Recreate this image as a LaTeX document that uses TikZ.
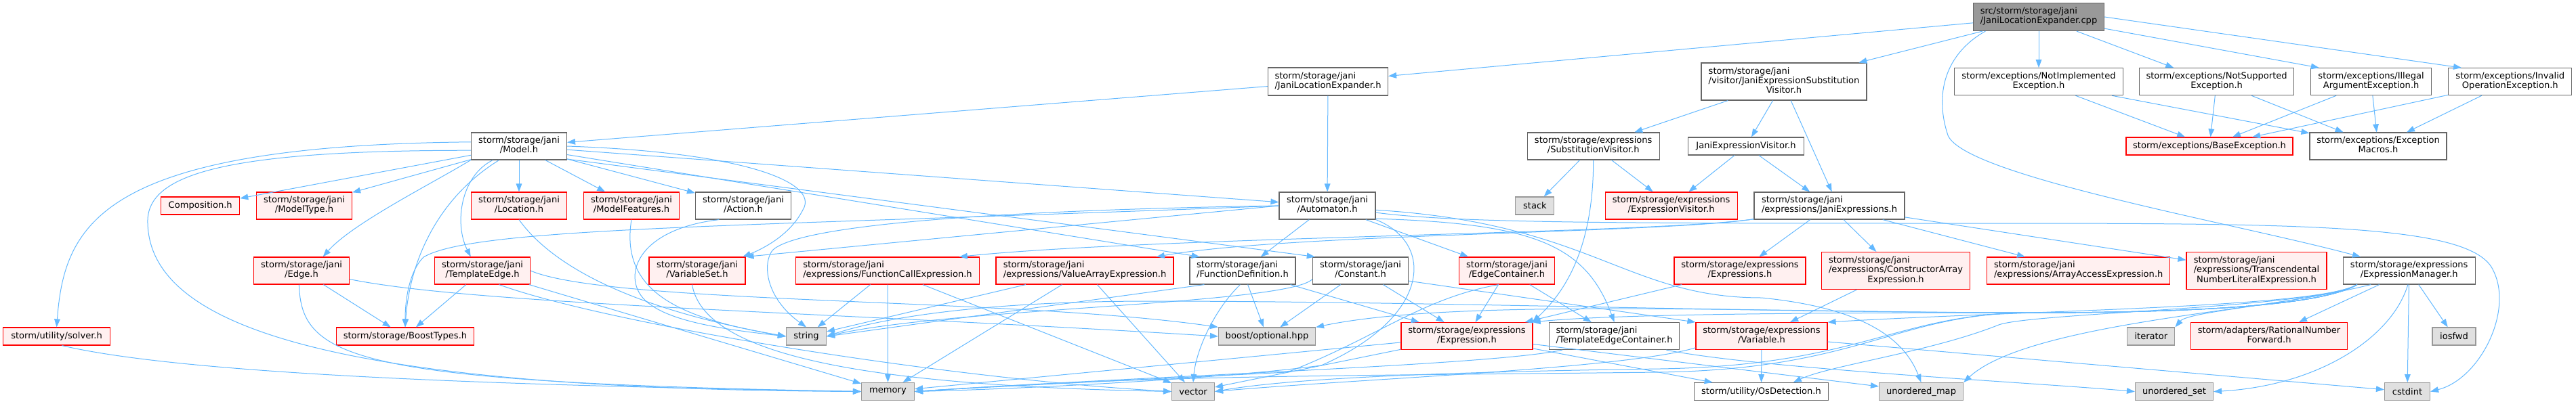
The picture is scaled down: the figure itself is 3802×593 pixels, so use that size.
\documentclass[tikz,border=0pt]{standalone}
\usepackage{fontspec}
\setmainfont{DejaVu Sans}
\usetikzlibrary{arrows.meta}
\definecolor{edgec}{HTML}{63B8FF}
\definecolor{redfill}{HTML}{FFF0F0}
\definecolor{grayfill}{HTML}{E0E0E0}
\definecolor{bord}{HTML}{999999}
\definecolor{wbord}{HTML}{666666}
\definecolor{cppfill}{HTML}{999999}
\definecolor{cppbord}{HTML}{666666}
\newcommand\dfont{\fontsize{9.8pt}{10.7pt}\selectfont}
\newcommand\twol[2]{\begin{tabular}{@{}l@{}}#1\\\multicolumn{1}{@{}c@{}}{#2}\end{tabular}}
\newcommand\threel[3]{\begin{tabular}{@{}l@{}}#1\\#2\\\multicolumn{1}{@{}c@{}}{#3}\end{tabular}}
\newcommand\nd[7]{\node[#6, minimum width=#4*0.75pt, minimum height=#5*0.75pt] (#1) at (#2,#3) {#7};}
\tikzset{
  dbox/.style={draw, line width=0.85pt, inner sep=0pt, font=\dfont, anchor=center},
  wnode/.style={dbox, draw=wbord, fill=white},
  rnode/.style={dbox, draw=red, fill=redfill},
  gnode/.style={dbox, draw=bord, fill=grayfill},
  cnode/.style={dbox, draw=cppbord, fill=cppfill},
  dep/.style={draw=edgec, line width=0.75pt, -{Triangle[length=9pt,width=6.5pt]}},
}
\begin{document}
\begin{tikzpicture}[x=0.75pt,y=-0.75pt]
\useasboundingbox (0,0) rectangle (3802,593);
% nodes
\nd{cpp}{3009}{25}{193}{41}{cnode}{\twol{src/storm/storage/jani}{/JaniLocationExpander.cpp}}
\nd{JLE}{1960}{120.5}{177}{41}{wnode}{\twol{storm/storage/jani}{/JaniLocationExpander.h}}
\nd{JESV}{2633}{120.5}{244}{55}{wnode}{\threel{storm/storage/jani}{/visitor/JaniExpressionSubstitution}{Visitor.h}}
\nd{NotImpl}{3009}{120.7}{249}{40}{wnode}{\twol{storm/exceptions/NotImplemented}{Exception.h}}
\nd{NotSupp}{3271.6}{120.7}{228}{40}{wnode}{\twol{storm/exceptions/NotSupported}{Exception.h}}
\nd{Illegal}{3499.6}{120.7}{178}{40}{wnode}{\twol{storm/exceptions/Illegal}{ArgumentException.h}}
\nd{Invalid}{3704.8}{120.7}{182}{40}{wnode}{\twol{storm/exceptions/Invalid}{OperationException.h}}
\nd{Model}{766}{216}{141}{40}{wnode}{\twol{storm/storage/jani}{/Model.h}}
\nd{SubV}{2351.7}{216}{195}{40}{wnode}{\twol{storm/storage/expressions}{/SubstitutionVisitor.h}}
\nd{JEV}{2577}{216}{171}{26}{wnode}{JaniExpressionVisitor.h}
\nd{BaseEx}{3261}{216}{246}{26}{rnode}{storm/exceptions/BaseException.h}
\nd{ExMac}{3510}{216}{202}{40}{wnode}{\twol{storm/exceptions/Exception}{Macros.h}}
\nd{Composition}{295.7}{304}{116}{26}{rnode}{Composition.h}
\nd{ModelType}{449}{304}{141}{40}{rnode}{\twol{storm/storage/jani}{/ModelType.h}}
\nd{Location}{766}{304}{141}{40}{rnode}{\twol{storm/storage/jani}{/Location.h}}
\nd{ModelFeatures}{932}{304}{141}{40}{rnode}{\twol{storm/storage/jani}{/ModelFeatures.h}}
\nd{Action}{1097}{304}{141}{40}{wnode}{\twol{storm/storage/jani}{/Action.h}}
\nd{Automaton}{1959}{304}{142}{40}{wnode}{\twol{storm/storage/jani}{/Automaton.h}}
\nd{stack}{2265.4}{304}{57}{26}{gnode}{stack}
\nd{ExprVis}{2466.6}{304}{195}{40}{rnode}{\twol{storm/storage/expressions}{/ExpressionVisitor.h}}
\nd{JaniExprs}{2700}{304}{222}{40}{wnode}{\twol{storm/storage/jani}{/expressions/JaniExpressions.h}}
\nd{Edge}{445}{400}{141}{40}{rnode}{\twol{storm/storage/jani}{/Edge.h}}
\nd{TemplateEdge}{712}{400}{141}{40}{rnode}{\twol{storm/storage/jani}{/TemplateEdge.h}}
\nd{VariableSet}{1029}{400}{142}{40}{rnode}{\twol{storm/storage/jani}{/VariableSet.h}}
\nd{FuncCall}{1310}{400}{271}{40}{rnode}{\twol{storm/storage/jani}{/expressions/FunctionCallExpression.h}}
\nd{ValueArray}{1601}{400}{262}{40}{rnode}{\twol{storm/storage/jani}{/expressions/ValueArrayExpression.h}}
\nd{FuncDef}{1834}{400}{156}{40}{wnode}{\twol{storm/storage/jani}{/FunctionDefinition.h}}
\nd{Constant}{2008}{400}{141}{40}{wnode}{\twol{storm/storage/jani}{/Constant.h}}
\nd{EdgeCont}{2224}{400}{141}{40}{rnode}{\twol{storm/storage/jani}{/EdgeContainer.h}}
\nd{Expressions}{2568}{400}{194}{40}{rnode}{\twol{storm/storage/expressions}{/Expressions.h}}
\nd{ConsArr}{2798}{400}{219}{55}{rnode}{\threel{storm/storage/jani}{/expressions/ConstructorArray}{Expression.h}}
\nd{ArrAcc}{3067.7}{400}{270}{40}{rnode}{\twol{storm/storage/jani}{/expressions/ArrayAccessExpression.h}}
\nd{Transc}{3330.5}{400}{207}{55}{rnode}{\threel{storm/storage/jani}{/expressions/Transcendental}{NumberLiteralExpression.h}}
\nd{ExprMgr}{3555.7}{400}{195}{40}{wnode}{\twol{storm/storage/expressions}{/ExpressionManager.h}}
\nd{solver}{83.6}{497}{158}{26}{rnode}{storm/utility/solver.h}
\nd{BoostTypes}{598}{497}{203}{26}{rnode}{storm/storage/BoostTypes.h}
\nd{string}{1190}{497}{59}{26}{gnode}{string}
\nd{boostopt}{1870}{497}{143}{26}{gnode}{boost/optional.hpp}
\nd{Expression}{2165}{496.6}{194}{40}{rnode}{\twol{storm/storage/expressions}{/Expression.h}}
\nd{TEC}{2382.6}{496.6}{192}{40}{wnode}{\twol{storm/storage/jani}{/TemplateEdgeContainer.h}}
\nd{Variable}{2600}{496.6}{194}{40}{rnode}{\twol{storm/storage/expressions}{/Variable.h}}
\nd{iterator}{3174.8}{497}{70}{26}{gnode}{iterator}
\nd{RatNum}{3349}{496.6}{231}{40}{rnode}{\twol{storm/adapters/RationalNumber}{Forward.h}}
\nd{iosfwd}{3622}{497}{64}{26}{gnode}{iosfwd}
\nd{memory}{1310.5}{578.5}{78}{26}{gnode}{memory}
\nd{vector}{1761}{578.5}{63}{26}{gnode}{vector}
\nd{OsDet}{2599.5}{578.6}{198}{26}{wnode}{storm/utility/OsDetection.h}
\nd{umap}{2835.5}{578.6}{124}{26}{gnode}{unordered\_map}
\nd{uset}{3209}{578.6}{115}{26}{gnode}{unordered\_set}
\nd{cstdint}{3553}{578.6}{67}{26}{gnode}{cstdint}
% cpp
\draw[dep] (cpp) -- (JLE);
\draw[dep] (cpp) -- (JESV);
\draw[dep] (cpp) -- (NotImpl);
\draw[dep] (cpp) -- (NotSupp.162);
\draw[dep] (cpp.-10) -- (Illegal.165);
\draw[dep] (cpp.east) -- (Invalid.164);
\draw[dep] (cpp.-165) .. controls (2870,80) and (2855,140) .. (2875,200) .. controls (2900,260) and (3300,330) .. (ExprMgr.164);
% JaniLocationExpander.h
\draw[dep] (JLE) -- (Model);
\draw[dep] (JLE) -- (Automaton);
% visitor
\draw[dep] (JESV) -- (SubV);
\draw[dep] (JESV) -- (JEV);
\draw[dep] (JESV.-70) -- (JaniExprs.80);
\draw[dep] (SubV) -- (stack);
\draw[dep] (SubV) -- (ExprVis);
\draw[dep] (SubV.south) .. controls (2352,380) and (2300,440) .. (Expression.12);
\draw[dep] (JEV) -- (ExprVis);
\draw[dep] (JEV) -- (JaniExprs);
% exceptions
\foreach \n in {NotImpl,NotSupp,Illegal,Invalid}{\draw[dep] (\n) -- (BaseEx); \draw[dep] (\n) -- (ExMac);}
% Model
\draw[dep] (Model) -- (Composition);
\draw[dep] (Model) -- (ModelType);
\draw[dep] (Model) -- (Location);
\draw[dep] (Model) -- (ModelFeatures);
\draw[dep] (Model) -- (Action);
\draw[dep] (Model) -- (Automaton);
\draw[dep] (Model.-10) -- (FuncDef.162);
\draw[dep] (Model.-15) -- (Constant.163);
\draw[dep] (Model.east) .. controls (1100,225) and (1210,270) .. (1185,310) .. controls (1165,350) and (1120,370) .. (VariableSet.17);
\draw[dep] (Model.-164) .. controls (640,270) and (520,330) .. (Edge.33);
\draw[dep] (Model.-145) .. controls (650,290) and (605,380) .. (BoostTypes.north);
\draw[dep] (Model.-152) .. controls (680,260) and (670,330) .. (TemplateEdge.130);
\draw[dep] (Model.175) .. controls (150,215) and (95,330) .. (solver.north);
\draw[dep] (Model.185) .. controls (320,222) and (215,260) .. (218,330) .. controls (222,480) and (480,575) .. (memory.west);
% Edge, TemplateEdge, VariableSet
\draw[dep] (Edge) -- (BoostTypes);
\draw[dep] (Edge.-100) .. controls (445,530) and (520,565) .. (memory.west);
\draw[dep] (Edge.-10) .. controls (700,450) and (1200,460) .. (boostopt.west);
\draw[dep] (TemplateEdge) -- (BoostTypes);
\draw[dep] (TemplateEdge) -- (memory);
\draw[dep] (TemplateEdge.-40) .. controls (900,480) and (1400,560) .. (vector.west);
\draw[dep] (TemplateEdge.east) .. controls (900,450) and (1500,440) .. (boostopt.north west);
\draw[dep] (VariableSet.-110) .. controls (1040,530) and (1300,570) .. (vector.west);
% Location, ModelFeatures, Action
\draw[dep] (Location.south) .. controls (820,400) and (950,460) .. (string.west);
\draw[dep] (ModelFeatures.south) .. controls (915,430) and (1000,470) .. (string.west);
\draw[dep] (Action.-150) .. controls (930,340) and (915,420) .. (960,450) .. controls (1000,480) and (1100,490) .. (string.west);
% Automaton
\draw[dep] (Automaton.west) -- (VariableSet.north east);
\draw[dep] (Automaton) -- (FuncDef);
\draw[dep] (Automaton) -- (EdgeCont);
\draw[dep] (Automaton.west) .. controls (1500,310) and (1180,330) .. (1140,370) .. controls (1125,390) and (1130,440) .. (string.north);
\draw[dep] (Automaton.west) .. controls (1100,335) and (700,335) .. (625,380) .. controls (605,400) and (598,440) .. (BoostTypes.north);
\draw[dep] (Automaton.south east) .. controls (2120,360) and (2110,470) .. (1950,540) .. controls (1800,560) and (1500,575) .. (memory.east);
\draw[dep] (Automaton.-15) .. controls (2260,330) and (2340,360) .. (TEC.north);
\draw[dep] (Automaton.-5) .. controls (2350,330) and (2400,440) .. (2600,440) .. controls (2750,455) and (2810,500) .. (umap.north);
\draw[dep] (Automaton.-8) .. controls (2150,330) and (2400,330) .. (2900,330) .. controls (3400,330) and (3650,330) .. (3680,400) .. controls (3710,460) and (3660,560) .. (cstdint.east);
% Constant, EdgeContainer, FunctionDefinition
\draw[dep] (Constant) -- (Expression);
\draw[dep] (Constant) -- (boostopt);
\draw[dep] (Constant.-12) -- (Variable.north west);
\draw[dep] (Constant.-170) .. controls (1900,450) and (1400,455) .. (string.east);
\draw[dep] (EdgeCont) -- (Expression);
\draw[dep] (EdgeCont) -- (TEC);
\draw[dep] (EdgeCont.-120) .. controls (2100,440) and (2030,500) .. (1900,550) .. controls (1700,560) and (1450,572) .. (memory.east);
\draw[dep] (FuncDef.-160) -- (string.east);
\draw[dep] (FuncDef.-100) .. controls (1790,460) and (1765,520) .. (vector.north);
\draw[dep] (FuncDef) -- (boostopt);
\draw[dep] (FuncDef) -- (Expression);
\foreach \s in {FuncCall,ValueArray}{\draw[dep] (\s) -- (string); \draw[dep] (\s) -- (memory); \draw[dep] (\s) -- (vector);}
% JaniExpressions
\draw[dep] (JaniExprs.-170) .. controls (2450,345) and (1700,350) .. (FuncCall.11);
\draw[dep] (JaniExprs.-170) .. controls (2450,345) and (1900,345) .. (ValueArray.11);
\draw[dep] (JaniExprs) -- (Expressions);
\draw[dep] (JaniExprs) -- (ConsArr);
\draw[dep] (JaniExprs) -- (ArrAcc);
\draw[dep] (JaniExprs) -- (Transc);
\draw[dep] (Expressions) -- (Expression);
\draw[dep] (ConsArr) -- (Variable);
% Expression, TEC, Variable
\draw[dep] (Expression) -- (memory);
\draw[dep] (Expression) -- (vector);
\draw[dep] (Expression) -- (OsDet);
\draw[dep] (Expression) -- (umap);
\draw[dep] (TEC.-165) .. controls (2200,540) and (1700,555) .. (memory.east);
\draw[dep] (TEC.-15) .. controls (2600,545) and (3000,565) .. (uset.west);
\draw[dep] (Variable) -- (OsDet);
\draw[dep] (Variable) -- (cstdint);
\draw[dep] (Variable.-170) .. controls (2400,545) and (2000,560) .. (vector.east);
% ExpressionManager
\draw[dep] (ExprMgr) -- (RatNum);
\draw[dep] (ExprMgr) -- (iosfwd);
\draw[dep] (ExprMgr) -- (cstdint);
\draw[dep] (ExprMgr.-95) .. controls (3530,500) and (3420,570) .. (uset.east);
\draw[dep] (ExprMgr.-160) .. controls (3380,450) and (3230,460) .. (iterator.north east);
\draw[dep] (ExprMgr.-165) .. controls (3420,455) and (3000,470) .. (umap.north east);
\draw[dep] (ExprMgr.-165) .. controls (3420,455) and (3000,458) .. (Variable.north east);
\draw[dep] (ExprMgr.-165) .. controls (3420,455) and (3200,462) .. (3000,462) .. controls (2800,462) and (2400,462) .. (Expression.12);
\draw[dep] (ExprMgr.-165) .. controls (3420,455) and (3000,462) .. (2950,480) .. controls (2850,520) and (2700,540) .. (OsDet.16);
\draw[dep] (ExprMgr.-165) .. controls (3420,455) and (3200,462) .. (3000,462) .. controls (2600,462) and (2150,440) .. (boostopt.north east);
\draw[dep] (ExprMgr.-165) .. controls (3420,455) and (3200,462) .. (3000,462) .. controls (2600,462) and (2100,445) .. (1700,445) .. controls (1450,445) and (1300,470) .. (string.east);
\draw[dep] (ExprMgr.-165) .. controls (3420,455) and (3200,462) .. (3000,462) .. controls (2800,462) and (2750,540) .. (2450,545) .. controls (2100,550) and (1900,560) .. (vector.east);
\draw[dep] (ExprMgr.-165) .. controls (3420,455) and (3200,462) .. (3000,462) .. controls (2800,462) and (2750,545) .. (2450,550) .. controls (1900,556) and (1700,555) .. (memory.east);
% solver
\draw[dep] (solver.-60) .. controls (300,560) and (900,572) .. (memory.west);
\end{tikzpicture}
\end{document}
